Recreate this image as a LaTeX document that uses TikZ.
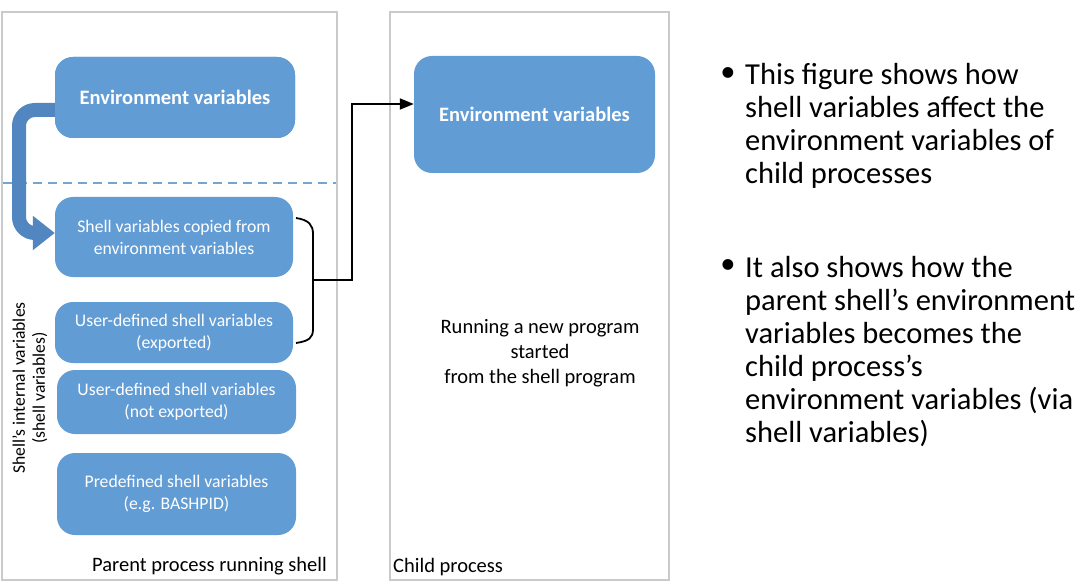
\documentclass[tikz,border=0pt]{standalone}
\usepackage{fontspec}
\setmainfont{Carlito}
\usetikzlibrary{arrows.meta}
\definecolor{boxblue}{RGB}{98,156,213}
\definecolor{arrowblue}{RGB}{82,134,192}
\definecolor{framegray}{RGB}{200,202,206}
\definecolor{dashblue}{RGB}{120,165,205}
\tikzset{
  frame/.style={draw=framegray, line width=1.6pt, fill=white, rectangle, inner sep=0pt},
  varbox/.style={rectangle, rounded corners=18pt, fill=boxblue, text=white, align=center, inner sep=0pt, font=\fontsize{17.7}{22}\selectfont},
  envbox/.style={varbox, font=\fontsize{20.5}{24}\selectfont\bfseries},
  conn/.style={draw=black, line width=1.8pt},
  bigarrow/.style={draw=arrowblue, line width=14pt, rounded corners=16pt, -{Triangle[length=22pt, width=33pt]}},
  plain/.style={font=\fontsize{20.5}{25}\selectfont, inner sep=0pt, align=center},
  bul/.style={font=\fontsize{30.5}{33}\selectfont, inner sep=0pt, anchor=base west},
  dot/.style={font=\fontsize{30.5}{33}\selectfont, inner sep=0pt},
}
\begin{document}
\begin{tikzpicture}[x=1pt, y=-1pt]
\useasboundingbox (0,0) rectangle (1092,588);
\fill[white] (0,0) rectangle (1092,588);
% frames
\node[frame, minimum width=335pt, minimum height=568pt] (parent) at (169.5,296) {};
\node[frame, minimum width=279pt, minimum height=568pt] (child) at (529.5,296) {};
% dashed separator
\coordinate (dl) at (3,183);
\coordinate (dr) at (336,183);
\draw[dashblue, line width=1.2pt, dash pattern=on 9pt off 6pt] (dl) -- (dr);
% boxes
\node[envbox, minimum width=240pt, minimum height=81pt] (penv) at (175,97.5) {};
\node[varbox, minimum width=238pt, minimum height=80pt] (scopy) at (174,237) {Shell variables copied from\\environment variables};
\node[varbox, minimum width=238pt, minimum height=61pt] (uexp) at (174,332.5) {User-defined shell variables\\(exported)};
\node[varbox, minimum width=239pt, minimum height=64pt] (unexp) at (176.5,402) {User-defined shell variables\\(not exported)};
\node[varbox, minimum width=239pt, minimum height=82pt] (pre) at (176.5,494) {Predefined shell variables\\(e.g. BASHPID)};
\node[envbox, minimum width=241pt, minimum height=117pt] (cenv) at (534.5,114.5) {Environment variables};
% thick blue arrow
\draw[bigarrow] ([yshift=-12.5pt]penv.west) -- (19,110) -- (19,233) -- ([yshift=4pt]scopy.west);
\node[envbox, minimum width=240pt, minimum height=81pt] (penvtop) at (175,97.5) {Environment variables};
% bracket
\coordinate (b1) at (296,218);
\coordinate (b2) at (296,343);
\coordinate (bm) at (313,280);
\draw[conn] (b1) .. controls (309,220) and (313,225) .. (313,234) -- (313,329) .. controls (313,338) and (309,341) .. (b2);
\draw[conn, -{Triangle[length=14pt, width=11pt]}] (bm) -- (352,280) |- ([yshift=10.5pt]cenv.west);
% labels
\node[plain, rotate=90, font=\fontsize{17.6}{20}\selectfont] (side) at (30,388) {Shell's internal variables\\(shell variables)};
\node[plain, anchor=base west] (plab) at (92,571) {Parent process running shell};
\node[plain, anchor=base west] (clab) at (393,572) {Child process};
\node[plain] (run) at (540,353) {Running a new program\\started\\from the shell program};
% bullets
\node[dot] (d1) at (728,75) {•};
\node[bul] (t1) at (745,85) {\begin{tabular}[t]{@{}l@{}}This figure shows how\\shell variables affect the\\environment variables of\\child processes\end{tabular}};
\node[dot] (d2) at (728,267) {•};
\node[bul] (t2) at (745,277) {\begin{tabular}[t]{@{}l@{}}It also shows how the\\parent shell’s environment\\variables becomes the\\child process’s\\environment variables (via\\shell variables)\end{tabular}};
\end{tikzpicture}
\end{document}
